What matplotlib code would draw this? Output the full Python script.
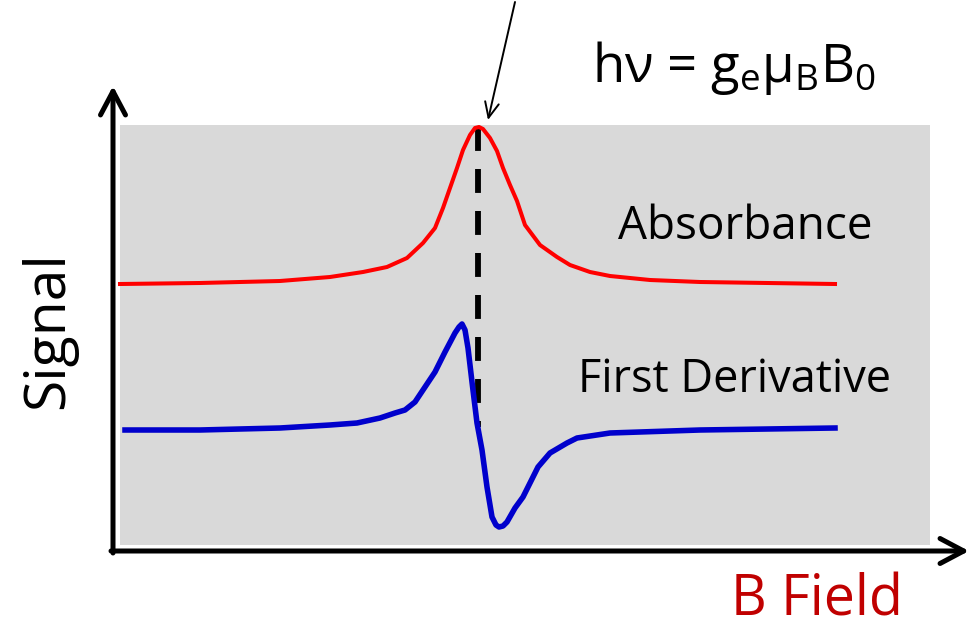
import matplotlib
matplotlib.use("Agg")
import matplotlib.pyplot as plt
from matplotlib.patches import Rectangle, FancyArrowPatch

plt.rcParams['font.family'] = ['Open Sans', 'DejaVu Sans']
plt.rcParams['mathtext.fontset'] = 'custom'
plt.rcParams['mathtext.rm'] = 'Open Sans'
plt.rcParams['mathtext.it'] = 'Open Sans'

# Absorbance trace (field position, signal level; screen-style units, y grows downward)
abs_field = [120, 200, 280, 330, 363, 387, 407, 423, 435, 443, 450, 457, 463, 470, 475,
             479, 483, 490, 497, 503, 510, 517, 525, 540, 557, 570, 590, 610, 650, 700, 835]
abs_signal = [284, 283, 281, 277, 272, 267, 258, 243, 228, 208, 188, 168, 150, 135, 128,
              127, 129, 138, 151, 168, 185, 201, 225, 245, 257, 265, 272, 276, 280, 282, 284]

# First-derivative trace
der_field = [125, 200, 280, 330, 357, 380, 395, 405, 415, 425, 435, 445, 455, 459, 462,
             465, 468, 472, 477, 482, 487, 492, 496, 499, 503, 507, 515, 523, 530, 538,
             550, 567, 577, 610, 700, 835]
der_signal = [430, 430, 428, 425, 423, 418, 413, 410, 402, 387, 372, 352, 333, 327, 324,
              330, 348, 382, 423, 450, 487, 517, 525, 527, 526, 522, 508, 497, 483, 467,
              453, 443, 438, 433, 430, 428]

resonance_field = 478
resonance_span = [127, 427]

fig = plt.figure(figsize=(9.71, 6.25), dpi=100)
ax = fig.add_axes([0, 0, 1, 1])
ax.set_xlim(0, 971)
ax.set_ylim(625, 0)
ax.axis('off')

# shaded plotting area
ax.add_patch(Rectangle((120, 125), 810, 420, facecolor='#d9d9d9', edgecolor='none', zorder=0))

# axes with open arrowheads
arrow_kw = dict(arrowstyle='->,head_length=17,head_width=9', color='black', lw=3.6,
                mutation_scale=1, capstyle='round', joinstyle='round',
                shrinkA=0, shrinkB=0, zorder=3)
ax.add_patch(FancyArrowPatch((113, 553), (113, 86), **arrow_kw))
ax.add_patch(FancyArrowPatch((111, 551), (969, 551), **arrow_kw))

# resonance marker
ax.plot([resonance_field, resonance_field], resonance_span, color='black', lw=4.2,
        dashes=(4.1, 3.1), dash_capstyle='butt', zorder=2)

ax.plot(abs_field, abs_signal, color='#ff0000', lw=2.9, solid_joinstyle='round', zorder=4)
ax.plot(der_field, der_signal, color='#0000cc', lw=4.0, solid_joinstyle='round', zorder=4)

# pointer to the resonance peak
ax.add_patch(FancyArrowPatch((515, 2), (488, 120), arrowstyle='->,head_length=11,head_width=5',
                             color='black', lw=1.4, mutation_scale=1, shrinkA=0, shrinkB=0, zorder=5))

ax.text(592, 82, 'hν = g$_\\mathrm{e}$μ$_\\mathrm{B}$B$_\\mathrm{0}$', fontsize=38,
        ha='left', va='baseline')
ax.text(745, 239, 'Absorbance', fontsize=33, ha='center', va='baseline')
ax.text(734, 392, 'First Derivative', fontsize=32.5, ha='center', va='baseline')
ax.text(63, 330, 'Signal', fontsize=41, rotation=90, ha='center', va='baseline',
        rotation_mode='anchor')
ax.text(817, 616, 'B Field', fontsize=40, color='#c00000', ha='center', va='baseline')

fig.savefig('out.png', dpi=100)
